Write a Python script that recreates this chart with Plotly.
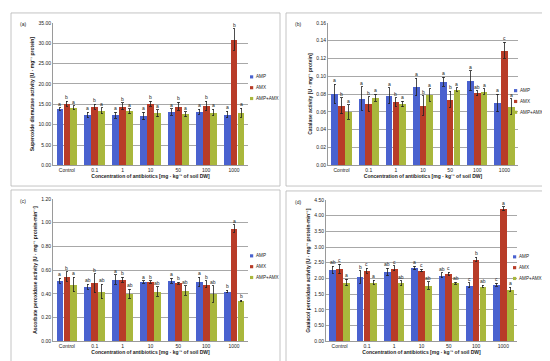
import plotly.graph_objects as go

categories = ["Control", "0.1", "1", "10", "50", "100", "1000"]
series_names = ["AMP", "AMX", "AMP+AMX"]
colors = ["#4a62cf", "#b83c28", "#a9b73c"]

# (a) Superoxide dismutase
sod_amp = [13.8, 12.4, 12.3, 12.1, 13.1, 13.2, 12.5]
sod_amx = [15.1, 14.4, 14.5, 15.1, 14.5, 14.6, 30.9]
sod_mix = [14.2, 13.4, 13.3, 12.8, 12.6, 13.0, 12.9]
sod_amp_err = [0.4, 0.7, 0.7, 0.9, 0.8, 0.6, 0.8]
sod_amx_err = [0.6, 0.6, 0.9, 0.6, 1.0, 1.2, 2.6]
sod_mix_err = [0.5, 0.7, 0.6, 0.9, 0.6, 0.8, 1.1]
sod_amp_lab = ["a"] * 7
sod_amx_lab = ["b", "b", "b", "b", "b", "b", "b"]
sod_mix_lab = ["a"] * 7

# (b) Catalase
cat_amp = [0.080, 0.075, 0.078, 0.088, 0.094, 0.095, 0.070]
cat_amx = [0.067, 0.069, 0.071, 0.067, 0.074, 0.081, 0.129]
cat_mix = [0.060, 0.076, 0.069, 0.079, 0.085, 0.083, 0.066]
cat_amp_err = [0.011, 0.013, 0.009, 0.010, 0.005, 0.011, 0.010]
cat_amx_err = [0.009, 0.008, 0.005, 0.011, 0.009, 0.003, 0.009]
cat_mix_err = [0.008, 0.004, 0.003, 0.007, 0.002, 0.003, 0.009]
cat_amp_lab = ["a"] * 7
cat_amx_lab = ["b", "b", "b", "b", "b", "ab", "c"]
cat_mix_lab = ["a"] * 7

# (c) Ascorbate peroxidase
apx_amp = [0.51, 0.46, 0.52, 0.50, 0.51, 0.50, 0.42]
apx_amx = [0.545, 0.49, 0.52, 0.50, 0.49, 0.48, 0.95]
apx_mix = [0.48, 0.42, 0.40, 0.42, 0.43, 0.40, 0.34]
apx_amp_err = [0.02, 0.02, 0.04, 0.01, 0.02, 0.04, 0.01]
apx_amx_err = [0.04, 0.08, 0.02, 0.01, 0.01, 0.03, 0.03]
apx_mix_err = [0.06, 0.06, 0.04, 0.04, 0.04, 0.07, 0.005]
apx_amp_lab = ["a", "ab", "a", "a", "a", "a", "b"]
apx_amx_lab = ["b", "b", "b", "b", "b", "b", "a"]
apx_mix_lab = ["a", "ab", "ab", "ab", "ab", "ab", "b"]

# (d) Guaiacol peroxidase
gpx_amp = [2.27, 2.05, 2.20, 2.33, 2.10, 1.78, 1.80]
gpx_amx = [2.30, 2.25, 2.32, 2.25, 2.15, 2.60, 4.22]
gpx_mix = [1.87, 1.87, 1.85, 1.78, 1.85, 1.75, 1.65]
gpx_amp_err = [0.12, 0.20, 0.12, 0.06, 0.08, 0.08, 0.05]
gpx_amx_err = [0.15, 0.08, 0.08, 0.04, 0.05, 0.07, 0.06]
gpx_mix_err = [0.10, 0.07, 0.08, 0.12, 0.03, 0.03, 0.07]
gpx_amp_lab = ["ab", "b", "ab", "a", "ab", "c", "c"]
gpx_amx_lab = ["c", "c", "c", "c", "c", "b", "a"]
gpx_mix_lab = ["a", "a", "ab", "ab", "ab", "ab", "a"]

panels = [
    dict(tag="(a)", vals=[sod_amp, sod_amx, sod_mix], errs=[sod_amp_err, sod_amx_err, sod_mix_err],
         labs=[sod_amp_lab, sod_amx_lab, sod_mix_lab], ymax=35, dtick=5,
         ytitle="Superoxide dismutase activity [U · mg⁻¹ protein]",
         xd=[45/550, 240/550], yd=[1-157/361, 1-12/361], box=[3, 2, 272, 178], leg=(242, 67)),
    dict(tag="(b)", vals=[cat_amp, cat_amx, cat_mix], errs=[cat_amp_err, cat_amx_err, cat_mix_err],
         labs=[cat_amp_lab, cat_amx_lab, cat_mix_lab], ymax=0.16, dtick=0.02,
         ytitle="Catalase activity [U · mg⁻¹ protein]",
         xd=[320/550, 510/550], yd=[1-157/361, 1-12/361], box=[278, 2, 547, 178], leg=(506, 81)),
    dict(tag="(c)", vals=[apx_amp, apx_amx, apx_mix], errs=[apx_amp_err, apx_amx_err, apx_mix_err],
         labs=[apx_amp_lab, apx_amx_lab, apx_mix_lab], ymax=1.2, dtick=0.2,
         ytitle="Ascorbate peroxidase activity [U · mg⁻¹ protein·min⁻¹]",
         xd=[45/550, 240/550], yd=[1-336/361, 1-191/361], box=[3, 182, 272, 358], leg=(242, 249)),
    dict(tag="(d)", vals=[gpx_amp, gpx_amx, gpx_mix], errs=[gpx_amp_err, gpx_amx_err, gpx_mix_err],
         labs=[gpx_amp_lab, gpx_amx_lab, gpx_mix_lab], ymax=4.5, dtick=0.5,
         ytitle="Guaiacol peroxidase activity [U · mg⁻¹ protein·min⁻¹]",
         xd=[318/550, 509/550], yd=[1-336/361, 1-192/361], box=[278, 183, 547, 358], leg=(505, 250)),
]

W, H = 550, 361
fig = go.Figure()
offsets = [-0.25, 0.0, 0.25]
annotations = []
shapes = []
FONT = "Liberation Sans, Arial, sans-serif"
FS = 5
LFS = 4.6

for p_i, p in enumerate(panels):
    n = "" if p_i == 0 else str(p_i + 1)
    xa, ya = "x" + n, "y" + n
    for s_i in range(3):
        xs = [i + offsets[s_i] for i in range(len(categories))]
        fig.add_trace(go.Bar(
            x=xs, y=p["vals"][s_i], width=0.245, name=series_names[s_i],
            marker=dict(color=colors[s_i], line=dict(width=0)),
            error_y=dict(type="data", array=p["errs"][s_i], color="#222222", thickness=0.8, width=1.2),
            xaxis=xa, yaxis=ya, showlegend=False))
        for i in range(len(categories)):
            annotations.append(dict(
                x=xs[i], y=p["vals"][s_i][i] + p["errs"][s_i][i], xref=xa, yref=ya,
                text=p["labs"][s_i][i], showarrow=False, yanchor="bottom", yshift=-1,
                font=dict(size=FS, family=FONT, color="#222222")))
    ticks = [round(k * p["dtick"], 4) for k in range(int(round(p["ymax"] / p["dtick"])) + 1)]
    fig.layout["xaxis" + n] = dict(
        domain=p["xd"], anchor=ya, range=[-0.5, 6.5],
        tickvals=list(range(len(categories))), ticktext=categories,
        tickfont=dict(size=FS, family=FONT, color="#222"), showgrid=False,
        showline=True, linecolor="#9a9a9a", linewidth=0.8, ticks="",
        title=dict(text="<b>Concentration of antibiotics [mg · kg⁻¹ of soil DW]</b>",
                   font=dict(size=FS, family=FONT, color="#222"), standoff=2),
        zeroline=False, fixedrange=True)
    fig.layout["yaxis" + n] = dict(
        domain=p["yd"], anchor=xa, range=[0, p["ymax"]],
        tickvals=ticks, ticktext=[f"{t:.2f}" for t in ticks],
        tickfont=dict(size=FS, family=FONT, color="#222"),
        showgrid=True, gridcolor="#a8a8a8", gridwidth=0.8,
        showline=True, linecolor="#9a9a9a", linewidth=0.8, ticks="",
        title=dict(text="<b>" + p["ytitle"] + "</b>",
                   font=dict(size=FS, family=FONT, color="#222"), standoff=3),
        zeroline=False, fixedrange=True)
    bx = p["box"]
    shapes.append(dict(type="rect", xref="paper", yref="paper",
                       x0=bx[0]/W, x1=bx[2]/W, y0=1-bx[3]/H, y1=1-bx[1]/H,
                       line=dict(color="#b5b5b5", width=0.8), layer="below"))
    annotations.append(dict(x=(bx[0]+7)/W, y=1-(bx[1]+11)/H, xref="paper", yref="paper",
                            text=p["tag"], showarrow=False, xanchor="left", yanchor="middle",
                            font=dict(size=FS, family=FONT, color="#222")))
    lx, ly = p["leg"]
    for s_i in range(3):
        yc = ly + 11 * s_i
        shapes.append(dict(type="rect", xref="paper", yref="paper",
                           x0=lx/W, x1=(lx+3.2)/W, y0=1-(yc+1.6)/H, y1=1-(yc-1.6)/H,
                           fillcolor=colors[s_i], line=dict(width=0)))
        annotations.append(dict(
            x=(lx+4.5)/W, y=1-yc/H, xref="paper", yref="paper", xanchor="left", yanchor="middle",
            text=series_names[s_i], showarrow=False, borderpad=0,
            font=dict(size=LFS, family=FONT, color="#222")))

fig.update_layout(
    width=W, height=H, margin=dict(l=0, r=0, t=0, b=0),
    paper_bgcolor="white", plot_bgcolor="white",
    bargap=0, showlegend=False, annotations=annotations, shapes=shapes)

fig.write_html("out.html")
